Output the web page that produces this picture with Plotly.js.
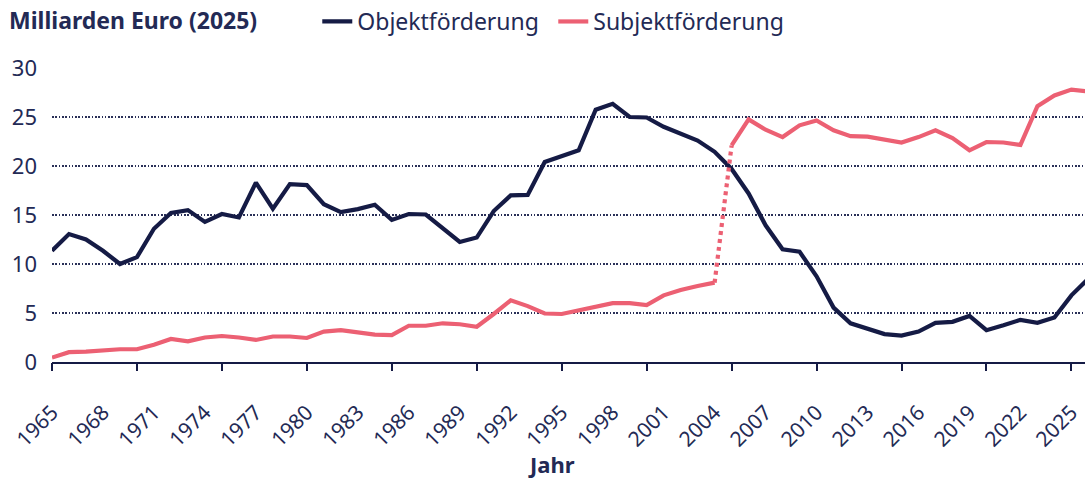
<!DOCTYPE html>
<html>
<head>
<meta charset="utf-8">
<script src="https://cdn.plot.ly/plotly-3.0.1.min.js"></script>
<style>html,body{margin:0;padding:0;background:#fff;}#chart{width:1085px;height:480px;}</style>
</head>
<body>
<div id="chart"></div>
<script>
// ---- data ----
const years = [];
for (let y = 1965; y <= 2026; y++) years.push(y);

const objektfoerderung = [
  11.35, 13.05, 12.5, 11.35, 10.0, 10.7, 13.6, 15.2, 15.5, 14.3,
  15.1, 14.75, 18.3, 15.65, 18.15, 18.05, 16.1, 15.3, 15.6, 16.05,
  14.5, 15.1, 15.05, 13.6, 12.25, 12.7, 15.4, 17.0, 17.05, 20.4,
  21.0, 21.6, 25.75, 26.35, 25.0, 24.95, 24.0, 23.25, 22.6, 21.45,
  19.7, 17.2, 13.95, 11.5, 11.25, 8.75, 5.55, 3.95, 3.45, 2.85,
  2.7, 3.1, 4.0, 4.1, 4.7, 3.25, 3.75, 4.3, 4.0, 4.55,
  6.8, 8.5
];
const subjektfoerderung = [
  0.45, 1.0, 1.05, 1.2, 1.3, 1.3, 1.75, 2.35, 2.1, 2.5,
  2.65, 2.5, 2.25, 2.6, 2.6, 2.45, 3.1, 3.25, 3.05, 2.8,
  2.75, 3.7, 3.7, 3.95, 3.85, 3.6, 4.9, 6.3, 5.7, 4.95,
  4.9, 5.25, 5.7, 6.0, 6.0, 5.8, 6.8, 7.35, 7.75, 8.1,
  22.1, 24.75, 23.7, 22.95, 24.15, 24.65, 23.65, 23.05, 23.0, 22.75,
  22.4, 22.95, 23.65, 22.85, 21.6, 22.45, 22.4, 22.15, 26.1, 27.2,
  27.8, 27.6
];
const breakYear = 2004; // dotted connection 2004 -> 2005
const labelYears = [1965,1968,1971,1974,1977,1980,1983,1986,1989,1992,1995,1998,2001,2004,2007,2010,2013,2016,2019,2022,2025];
const tickYears = [1965,1970,1975,1980,1985,1990,1995,2000,2005,2010,2015,2020,2025];
const yTicks = [0,5,10,15,20,25,30];

// ---- styles ----
const NAVY = '#151b45';
const PINK = '#ec6073';
const TEXT = '#232a55';
const FONT = 'Noto Sans, Open Sans, sans-serif';
const FS = 23;

const bi = years.indexOf(breakYear);
const seg = (a, b) => ({x: years.slice(a, b), y: subjektfoerderung.slice(a, b)});

const traces = [
  {x: years, y: objektfoerderung, type: 'scatter', mode: 'lines', name: 'Objektförderung',
   line: {color: NAVY, width: 4.2, shape: 'linear'}, legendgroup: 'o'},
  Object.assign(seg(0, bi + 1), {type: 'scatter', mode: 'lines', name: 'Subjektförderung',
   line: {color: PINK, width: 4.2}, legendgroup: 's'}),
  Object.assign(seg(bi, bi + 2), {type: 'scatter', mode: 'lines', name: 'Subjektförderung',
   line: {color: PINK, width: 4.2, dash: '4px,4px'}, legendgroup: 's', showlegend: false}),
  Object.assign(seg(bi + 1, years.length), {type: 'scatter', mode: 'lines', name: 'Subjektförderung',
   line: {color: PINK, width: 4.2}, legendgroup: 's', showlegend: false}),
  // invisible trace carrying the 5-year tick axis
  {x: tickYears, y: tickYears.map(() => null), xaxis: 'x2', type: 'scatter', mode: 'lines',
   showlegend: false, hoverinfo: 'skip'}
];

const xr = [1965, 2025.8];
const layout = {
  width: 1085, height: 480,
  margin: {l: 52, r: 0, t: 68, b: 118},
  paper_bgcolor: '#fff', plot_bgcolor: '#fff',
  font: {family: FONT, size: FS, color: TEXT},
  title: {text: '<b>Milliarden Euro (2025)</b>', xref: 'container', yref: 'container',
          x: 9 / 1085, xanchor: 'left', y: 1 - 21 / 480, yanchor: 'middle',
          font: {family: FONT, size: FS, color: TEXT}},
  showlegend: true,
  legend: {orientation: 'h', x: 0.2568, xanchor: 'left', y: 1.16, yanchor: 'middle',
           font: {family: FONT, size: FS, color: TEXT}, itemwidth: 30, tracegroupgap: 0,
           entrywidth: 191, entrywidthmode: 'pixels',
           bgcolor: 'rgba(0,0,0,0)'},
  xaxis: {range: xr, type: 'linear', tickmode: 'array', tickvals: labelYears,
          ticktext: labelYears.map(String), tickangle: -45,
          ticks: 'outside', ticklen: 16, tickcolor: 'rgba(0,0,0,0)', ticklabelstandoff: 12,
          showgrid: false, zeroline: false, showline: true, linecolor: NAVY, linewidth: 2,
          tickfont: {family: FONT, size: 21, color: TEXT}, fixedrange: true},
  xaxis2: {range: xr, overlaying: 'x', anchor: 'y', side: 'bottom', tickmode: 'array',
           tickvals: tickYears, showticklabels: false, ticks: 'outside', ticklen: 8,
           tickwidth: 2, tickcolor: NAVY, showgrid: false, zeroline: false, showline: false},
  yaxis: {range: [0, 30], tickmode: 'array', tickvals: yTicks, ticks: '',
          showgrid: true, gridcolor: '#2a3058', gridwidth: 1.6, griddash: '1.6px,1.7px',
          zeroline: false, showline: false, ticklabelstandoff: 14,
          tickfont: {family: FONT, size: 22, color: TEXT}, fixedrange: true},
  annotations: [
    {text: '<b>Jahr</b>', xref: 'paper', yref: 'paper', x: (551 - 52) / 1033, y: -(464 - 362) / 294,
     xanchor: 'center', yanchor: 'middle', showarrow: false,
     font: {family: FONT, size: 22, color: TEXT}}
  ]
};

Plotly.newPlot('chart', traces, layout, {displayModeBar: false, staticPlot: true});
</script>
</body>
</html>
